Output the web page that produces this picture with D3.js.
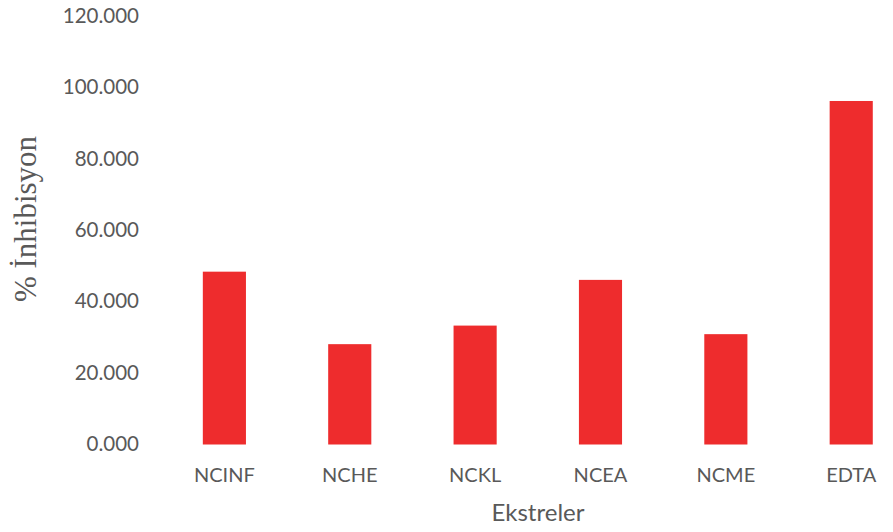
<!DOCTYPE html>
<html>
<head>
<meta charset="utf-8">
<script src="https://cdn.jsdelivr.net/npm/d3@7/dist/d3.min.js"></script>
<style>
  html, body { margin: 0; padding: 0; background: #ffffff; }
  svg { display: block; }
</style>
</head>
<body>
<svg id="chart" width="893" height="532"></svg>
<script>
// Extract names and their % inhibition values
const categories = ["NCINF", "NCHE", "NCKL", "NCEA", "NCME", "EDTA"];
const inhibition = [48.4, 28.1, 33.3, 46.1, 30.9, 96.2];
const yTicks = [0, 20, 40, 60, 80, 100, 120];

const svg = d3.select("#chart");

const x = d3.scaleBand()
  .domain(categories)
  .range([161.7, 913.9])
  .paddingInner(0.656)
  .paddingOuter(0.328);

const y = d3.scaleLinear()
  .domain([0, 120])
  .range([444.5, 16]);

const textColor = "#595959";
const sans = "Lato, 'Open Sans', 'Liberation Sans', sans-serif";

// Bars
svg.append("g")
  .selectAll("rect")
  .data(categories.map((c, i) => ({ c, v: inhibition[i] })))
  .join("rect")
  .attr("x", d => x(d.c))
  .attr("y", d => y(d.v))
  .attr("width", x.bandwidth())
  .attr("height", d => y(0) - y(d.v))
  .attr("fill", "#ee2c2d");

// Y axis (labels only, no line or ticks)
const yAxis = d3.axisLeft(y)
  .tickValues(yTicks)
  .tickFormat(d3.format(".3f"))
  .tickSize(0)
  .tickPadding(0);

const gy = svg.append("g")
  .attr("transform", "translate(139,-1)")
  .call(yAxis);
gy.select(".domain").remove();
gy.selectAll("text")
  .attr("x", 0)
  .attr("dy", "0.35em")
  .style("font-family", sans)
  .style("font-size", "20.5px")
  .style("fill", textColor);

// X axis (category labels only)
const xAxis = d3.axisBottom(x).tickSize(0).tickPadding(0);
const gx = svg.append("g")
  .attr("transform", "translate(0,474.5)")
  .call(xAxis);
gx.select(".domain").remove();
gx.selectAll("text")
  .attr("y", 0)
  .attr("dy", "0.35em")
  .style("font-family", sans)
  .style("font-size", "20px")
  .style("fill", textColor);

// X axis title
svg.append("text")
  .attr("x", 538)
  .attr("y", 513)
  .attr("text-anchor", "middle")
  .attr("dy", "0.35em")
  .style("font-family", sans)
  .style("font-size", "24px")
  .style("fill", textColor)
  .text("Ekstreler");

// Y axis title
svg.append("text")
  .attr("transform", "translate(25,219) rotate(-90)")
  .attr("text-anchor", "middle")
  .attr("dy", "0.35em")
  .style("font-family", "'Liberation Serif', 'Times New Roman', serif")
  .style("font-size", "31px")
  .style("fill", textColor)
  .text("% İnhibisyon");
</script>
</body>
</html>
